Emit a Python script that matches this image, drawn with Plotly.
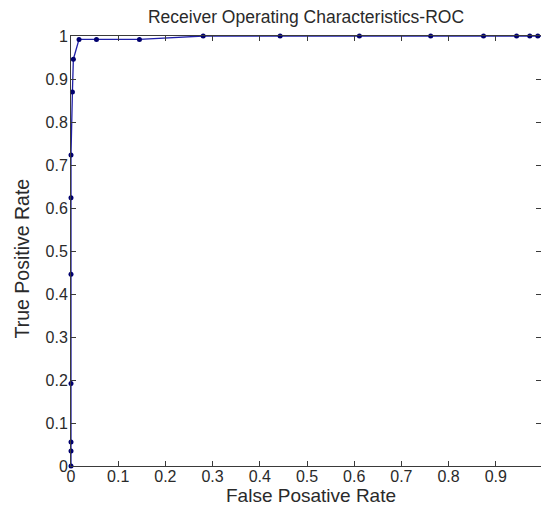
import plotly.graph_objects as go

# ROC curve points
fpr = [0, 0, 0, 0, 0, 0, 0, 0.003, 0.005, 0.017, 0.054, 0.145,
       0.28, 0.443, 0.611, 0.762, 0.874, 0.944, 0.972, 0.989, 1.0]
tpr = [0, 0.035, 0.056, 0.192, 0.446, 0.624, 0.723, 0.87, 0.946, 0.992, 0.992, 0.992,
       1, 1, 1, 1, 1, 1, 1, 1, 1]

x_ticks = [0, 0.1, 0.2, 0.3, 0.4, 0.5, 0.6, 0.7, 0.8, 0.9, 1]
x_tick_text = ["0", "0.1", "0.2", "0.3", "0.4", "0.5", "0.6", "0.7", "0.8", "0.9", "1"]
y_ticks = [0, 0.1, 0.2, 0.3, 0.4, 0.5, 0.6, 0.7, 0.8, 0.9, 1]
y_tick_text = ["0", "0.1", "0.2", "0.3", "0.4", "0.5", "0.6", "0.7", "0.8", "0.9", "1"]

title_text = "Receiver Operating Characteristics-ROC"
x_title = "False Posative Rate"
y_title = "True Positive Rate"

W, H = 541, 510
L, R, T, B = 71, 0, 36, 44
PW, PH = W - L - R, H - T - B
px_per_unit = 472.0
x_max = PW / px_per_unit

FONT = "Liberation Sans, Arial, sans-serif"
TXT = "#2a2a2a"
AX = "#3a3a3a"


def px_to_paper_x(px):
    return (px - L) / PW


def px_to_paper_y(py):
    return (H - B - py) / PH


fig = go.Figure()
fig.add_trace(go.Scatter(
    x=fpr, y=tpr, mode="lines+markers",
    line=dict(color="#1f1fa8", width=1.3),
    marker=dict(color="#00006e", size=5, symbol="circle"),
    cliponaxis=False, showlegend=False,
))

axis_common = dict(
    showgrid=False, zeroline=False, showline=True, linecolor=AX, linewidth=1,
    mirror="ticks", ticks="inside", ticklen=5, tickwidth=1, tickcolor=AX,
    tickfont=dict(family=FONT, size=16, color=TXT), automargin=False,
)

fig.update_layout(
    width=W, height=H,
    margin=dict(l=L, r=R, t=T, b=B, pad=0, autoexpand=False),
    paper_bgcolor="white", plot_bgcolor="white",
    title=dict(text=title_text,
               font=dict(family=FONT, size=17.5, color=TXT),
               x=0.5, xanchor="center", xref="paper",
               y=1 - 17 / H, yanchor="middle", yref="container", automargin=False),
    xaxis=dict(range=[0, x_max], tickvals=x_ticks, ticktext=x_tick_text,
               ticklabelstandoff=-4, **axis_common),
    yaxis=dict(range=[0, 1], tickvals=y_ticks, ticktext=y_tick_text,
               ticklabelstandoff=-1, **axis_common),
    annotations=[
        dict(text=x_title, xref="paper", yref="paper",
             x=px_to_paper_x(311), y=px_to_paper_y(496),
             xanchor="center", yanchor="middle", showarrow=False,
             font=dict(family=FONT, size=19, color=TXT)),
        dict(text=y_title, xref="paper", yref="paper", textangle=-90,
             x=px_to_paper_x(21.5), y=px_to_paper_y(259),
             xanchor="center", yanchor="middle", showarrow=False,
             font=dict(family=FONT, size=19.5, color=TXT)),
    ],
)

fig.write_html(
    "out.html",
    config={"displayModeBar": False},
    post_script="document.body.style.margin='0';document.body.style.overflow='hidden';",
)
